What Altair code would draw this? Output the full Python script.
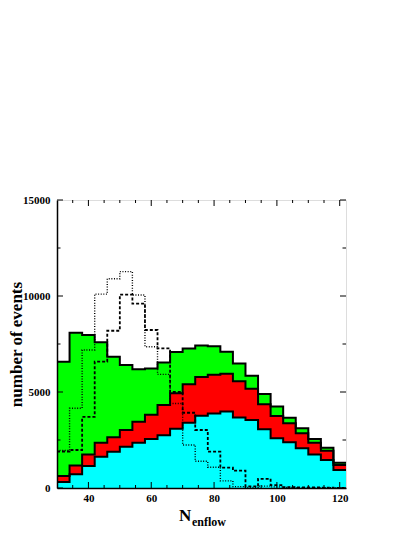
import altair as alt
import pandas as pd

# bin edges (N_enflow), 4 units wide
edges = [30, 34, 38, 42, 46, 50, 54, 58, 62, 66, 70, 74, 78, 82, 86, 90,
         94, 98, 102, 106, 110, 114, 118, 122]

# stacked totals (top of each filled layer)
green_total = [6580, 8090, 7970, 7590, 6840, 6410, 6180, 6230, 6530, 7080, 7260, 7420,
               7380, 7100, 6490, 5850, 4900, 4240, 3660, 3110, 2550, 2100, 1320]
red_total = [620, 1170, 1750, 2360, 2640, 3020, 3450, 3820, 4320, 4930, 5410, 5780,
             5900, 5950, 5560, 5170, 4360, 3750, 3370, 2850, 2360, 1940, 1200]
cyan_total = [310, 710, 1150, 1630, 1890, 2150, 2360, 2550, 2750, 3090, 3400, 3760,
              3880, 3980, 3670, 3540, 3060, 2590, 2380, 2070, 1750, 1460, 940]
dotted_vals = [1950, 4150, 7190, 10100, 10900, 11270, 10050, 7360, 5920, 4400, 2240, 1390,
               1080, 370, 70, 30, 100, 60, 30, 20, 10, 10, 5]
dashed_vals = [1900, 1980, 3700, 6580, 8190, 10070, 9600, 8230, 7270, 5000, 3920, 3020,
               1890, 1060, 900, 80, 480, 150, 50, 30, 30, 20, 10]

x_labels = [40, 60, 80, 100, 120]
x_minor = [35, 45, 50, 55, 65, 70, 75, 85, 90, 95, 105, 110, 115]
y_labels = [0, 5000, 10000, 15000]
y_minor = [2500, 7500, 12500]

W, H = 289, 288
FONT = "Liberation Serif"


def steps(name, vals):
    return pd.DataFrame({"x": edges, "v": vals + [vals[-1]], "s": name})


xscale = alt.Scale(domain=[30, 122], nice=False, zero=False)
yscale = alt.Scale(domain=[0, 15000], nice=False)
xaxis = alt.Axis(values=x_labels, format="d", title=None, grid=False, ticks=False, tickSize=0,
                 labelFont=FONT, labelFontWeight="bold", labelFontSize=11, labelColor="black",
                 labelPadding=4, labelFlush=False, labelOverlap=False,
                 domainColor="black", domainWidth=1.5, zindex=1)
yaxis = alt.Axis(values=y_labels, format="d", title="number of events", grid=False, ticks=False,
                 tickSize=0, labelFont=FONT, labelFontWeight="bold", labelFontSize=11,
                 labelColor="black", labelPadding=7, labelOverlap=False, labelFlush=False,
                 domainColor="black", domainWidth=1.5, zindex=1,
                 titleFont=FONT, titleFontWeight="bold", titleFontSize=17, titleColor="black",
                 titleAngle=270, titleX=-36, titleY=H / 2, titleAlign="center",
                 titleBaseline="alphabetic")


def X(f):
    return alt.X(f, type="quantitative", scale=xscale, axis=xaxis)


def Y(f):
    return alt.Y(f, type="quantitative", scale=yscale, axis=yaxis)


layers = []
for name, vals, col in [("green", green_total, "#00ff00"),
                        ("red", red_total, "#ff0000"),
                        ("cyan", cyan_total, "#00ffff")]:
    layers.append(alt.Chart(steps(name, vals)).mark_area(
        interpolate="step-after", color=col, opacity=1).encode(x=X("x"), y=Y("v")))

for name, vals in [("green", green_total), ("red", red_total), ("cyan", cyan_total)]:
    layers.append(alt.Chart(steps(name, vals)).mark_line(
        interpolate="step-after", color="black", strokeWidth=2).encode(x=X("x"), y=Y("v")))

layers.append(alt.Chart(steps("dotted", dotted_vals)).mark_line(
    interpolate="step-after", color="black", strokeWidth=1.4, strokeDash=[1, 1.6]
).encode(x=X("x"), y=Y("v")))
layers.append(alt.Chart(steps("dashed", dashed_vals)).mark_line(
    interpolate="step-after", color="black", strokeWidth=1.8, strokeDash=[3, 2]
).encode(x=X("x"), y=Y("v")))

# inside tick marks
xmaj = pd.DataFrame({"x": x_labels})
xmin = pd.DataFrame({"x": x_minor})
ymaj = pd.DataFrame({"v": y_labels})
ymin = pd.DataFrame({"v": y_minor})
for df, ln in [(xmaj, 6), (xmin, 3)]:
    layers.append(alt.Chart(df).mark_rule(color="black", strokeWidth=1).encode(
        x=X("x"), y=alt.value(H), y2=alt.value(H - ln)))
    layers.append(alt.Chart(df).mark_rule(color="black", strokeWidth=1).encode(
        x=X("x"), y=alt.value(0), y2=alt.value(ln)))
for df, ln in [(ymaj, 6), (ymin, 3.5)]:
    layers.append(alt.Chart(df).mark_rule(color="black", strokeWidth=1).encode(
        y=Y("v"), x=alt.value(0), x2=alt.value(ln)))
    layers.append(alt.Chart(df).mark_rule(color="black", strokeWidth=1).encode(
        y=Y("v"), x=alt.value(W), x2=alt.value(W - ln)))

# x-axis title with subscript
layers.append(alt.Chart(pd.DataFrame({"t": ["N"]})).mark_text(
    align="left", baseline="alphabetic", font=FONT, fontWeight="bold", fontSize=17, color="black"
).encode(text="t:N", x=alt.value(122), y=alt.value(321)))
layers.append(alt.Chart(pd.DataFrame({"t": ["enflow"]})).mark_text(
    align="left", baseline="alphabetic", font=FONT, fontWeight="bold", fontSize=12, color="black"
).encode(text="t:N", x=alt.value(135), y=alt.value(326)))

chart = alt.layer(*layers).properties(
    width=W, height=H,
    autosize=alt.AutoSizeParams(type="none"),
    padding={"left": 49, "top": 192, "right": 60, "bottom": 41},
).configure_view(stroke="black", strokeWidth=1.2).configure(background="white")

chart.save("out.html", embed_options={"renderer": "svg", "actions": False})
